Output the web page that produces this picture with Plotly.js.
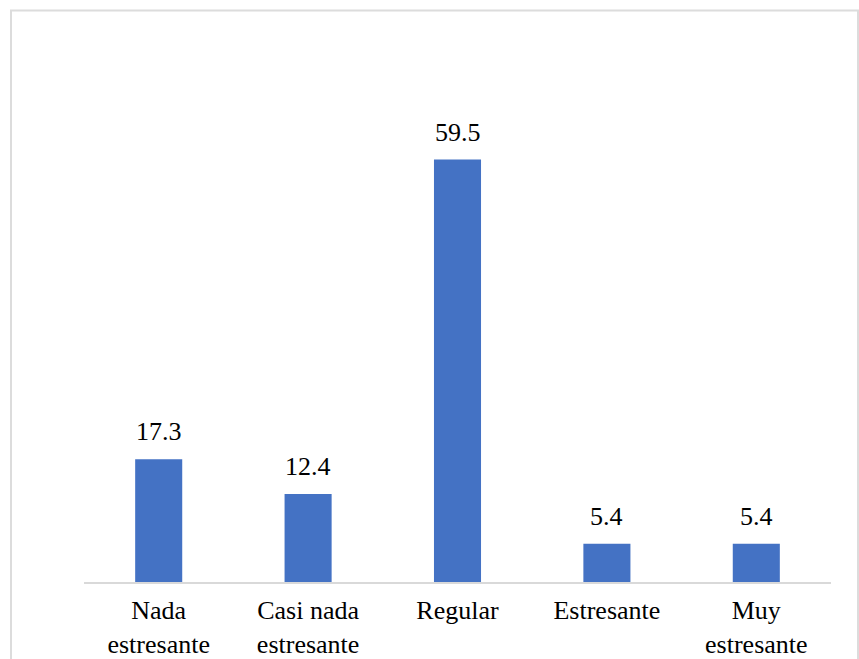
<!DOCTYPE html>
<html>
<head>
<meta charset="utf-8">
<script src="https://cdn.plot.ly/plotly-3.0.1.min.js"></script>
<style>
  html, body { margin: 0; padding: 0; background: #ffffff; }
  #chart { width: 859px; height: 659px; }
</style>
</head>
<body>
<div id="chart"></div>
<script>
const categories = ["Nada<br>estresante", "Casi nada<br>estresante", "Regular", "Estresante", "Muy<br>estresante"];
const values = [17.3, 12.4, 59.5, 5.4, 5.4];
const valueLabels = ["17.3", "12.4", "59.5", "5.4", "5.4"];

const FONT = "Liberation Serif";

const trace = {
  type: "bar",
  x: categories,
  y: values,
  marker: { color: "#4472C4" },
  hoverinfo: "skip"
};

const annotations = categories.map((c, i) => ({
  x: c,
  y: values[i],
  xref: "x",
  yref: "y",
  text: valueLabels[i],
  showarrow: false,
  yanchor: "bottom",
  yshift: 11,
  font: { family: FONT, size: 26, color: "#000000" }
}));

const layout = {
  width: 859,
  height: 659,
  margin: { l: 84, r: 28, t: 85, b: 77 },
  paper_bgcolor: "#ffffff",
  plot_bgcolor: "#ffffff",
  showlegend: false,
  bargap: 0.685,
  font: { family: FONT, size: 26, color: "#000000" },
  xaxis: {
    showline: true,
    linecolor: "#d9d9d9",
    linewidth: 1.5,
    ticks: "",
    showgrid: false,
    zeroline: false,
    ticklabelstandoff: 4,
    tickfont: { family: FONT, size: 26, color: "#000000" },
    fixedrange: true
  },
  yaxis: {
    range: [0, 70],
    visible: false,
    showgrid: false,
    zeroline: false,
    fixedrange: true
  },
  annotations: annotations,
  shapes: [{
    type: "rect",
    xref: "paper",
    yref: "paper",
    x0: (11 - 84) / 747,
    x1: (858 - 84) / 747,
    y0: (582 - 680) / 497,
    y1: (582 - 10.5) / 497,
    line: { color: "#dcdcdc", width: 2 },
    fillcolor: "rgba(0,0,0,0)",
    layer: "below"
  }]
};

Plotly.newPlot("chart", [trace], layout, { displayModeBar: false, staticPlot: true });
</script>
</body>
</html>
